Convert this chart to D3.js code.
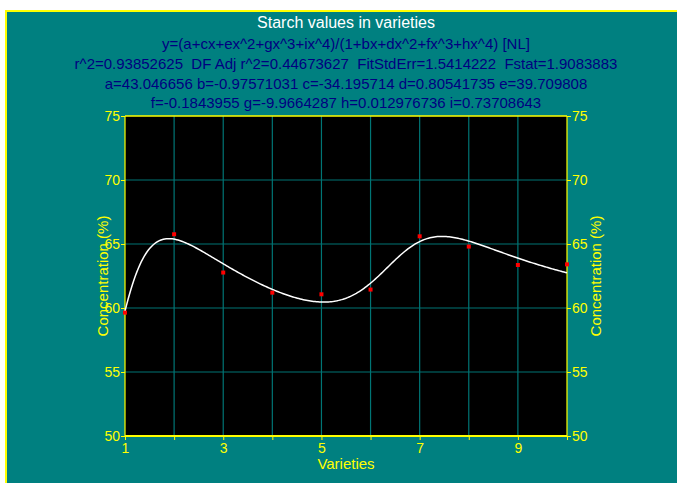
<!DOCTYPE html>
<html>
<head>
<meta charset="utf-8">
<script src="https://cdn.jsdelivr.net/npm/d3@7"></script>
<style>
  html, body { margin: 0; padding: 0; background: #ffffff; overflow: hidden; }
  svg { display: block; }
  text { font-family: "Liberation Sans", Arial, sans-serif; white-space: pre; }
</style>
</head>
<body>
<svg id="chart" width="677" height="483"></svg>
<script>
// ---- Data ----
const varieties = [1, 2, 3, 4, 5, 6, 7, 8, 9, 10];
const starch = [59.64, 65.76, 62.77, 61.2, 61.07, 61.44, 65.6, 64.8, 63.36, 63.41];
// fitted rational-function parameters shown in the chart header
const paramNames = ["a", "b", "c", "d", "e", "f", "g", "h", "i"];
const paramValues = [43.046656, -0.97571031, -34.195714, 0.80541735, 39.709808,
                     -0.1843955, -9.9664287, 0.012976736, 0.73708643];
const xTickValues = [1, 2, 3, 4, 5, 6, 7, 8, 9, 10];
const xTickLabels = ["1", "", "3", "", "5", "", "7", "", "9", ""];
const yTickValues = [50, 55, 60, 65, 70, 75];
const headerLines = [
  "Starch values in varieties",
  "y=(a+cx+ex^2+gx^3+ix^4)/(1+bx+dx^2+fx^3+hx^4) [NL]",
  "r^2=0.93852625  DF Adj r^2=0.44673627  FitStdErr=1.5414222  Fstat=1.9083883",
  "a=43.046656 b=-0.97571031 c=-34.195714 d=0.80541735 e=39.709808",
  "f=-0.1843955 g=-9.9664287 h=0.012976736 i=0.73708643"
];

// ---- Layout ----
const svg = d3.select("#chart");
const W = 677, H = 483;
const plot = { left: 125, right: 567, top: 116, bottom: 436 };
const TEAL = "#008080", YEL = "#ffff00";

svg.append("rect").attr("x", 0).attr("y", 0).attr("width", W).attr("height", H).attr("fill", "#ffffff");
svg.append("rect").attr("x", 6).attr("y", 11).attr("width", W + 10).attr("height", H + 10)
  .attr("fill", TEAL).attr("stroke", YEL).attr("stroke-width", 2);

const x = d3.scaleLinear().domain([1, 10]).range([plot.left, plot.right]);
const y = d3.scaleLinear().domain([50, 75]).range([plot.bottom, plot.top]);

// header
const headerY = [24, 45, 65, 85, 104];
headerLines.forEach((t, i) => {
  svg.append("text")
    .attr("x", (plot.left + plot.right) / 2)
    .attr("y", headerY[i])
    .attr("text-anchor", "middle")
    .attr("dominant-baseline", "middle")
    .attr("font-size", i === 0 ? "16px" : "15px")
    .attr("fill", i === 0 ? "#ffffff" : "#000080")
    .text(t);
});

// plot background
svg.append("rect").attr("x", plot.left).attr("y", plot.top)
  .attr("width", plot.right - plot.left).attr("height", plot.bottom - plot.top)
  .attr("fill", "#000000");

// grid
const grid = svg.append("g").attr("stroke", "#007575").attr("stroke-width", 1.2);
grid.selectAll("line.v").data(xTickValues.filter(v => v > 1 && v < 10)).join("line")
  .attr("x1", d => x(d)).attr("x2", d => x(d))
  .attr("y1", plot.top).attr("y2", plot.bottom);
grid.selectAll("line.h").data(yTickValues.filter(v => v > 50 && v < 75)).join("line")
  .attr("y1", d => y(d)).attr("y2", d => y(d))
  .attr("x1", plot.left).attr("x2", plot.right);

// axes
function styleAxis(g) {
  g.select(".domain").remove();
  g.selectAll(".tick line").attr("stroke", YEL);
  g.selectAll(".tick text").attr("fill", YEL).attr("font-size", "14px")
    .attr("font-family", "Liberation Sans, Arial, sans-serif");
}
svg.append("g").attr("transform", `translate(0,${plot.bottom})`)
  .call(d3.axisBottom(x).tickValues(xTickValues).tickSize(4).tickPadding(3)
    .tickFormat((d, i) => xTickLabels[i]))
  .call(styleAxis);
svg.append("g").attr("transform", `translate(${plot.left},0)`)
  .call(d3.axisLeft(y).tickValues(yTickValues).tickSize(4).tickPadding(1))
  .call(styleAxis);
svg.append("g").attr("transform", `translate(${plot.right},0)`)
  .call(d3.axisRight(y).tickValues(yTickValues).tickSize(4).tickPadding(1))
  .call(styleAxis);

// frame lines
svg.append("line").attr("x1", plot.left).attr("x2", plot.right).attr("y1", plot.top).attr("y2", plot.top)
  .attr("stroke", YEL).attr("stroke-width", 1.5);
svg.append("line").attr("x1", plot.left).attr("x2", plot.right).attr("y1", plot.bottom).attr("y2", plot.bottom)
  .attr("stroke", YEL).attr("stroke-width", 2);
svg.append("line").attr("x1", plot.left).attr("x2", plot.left).attr("y1", plot.top).attr("y2", plot.bottom)
  .attr("stroke", YEL).attr("stroke-width", 1.2);
svg.append("line").attr("x1", plot.right).attr("x2", plot.right).attr("y1", plot.top).attr("y2", plot.bottom)
  .attr("stroke", YEL).attr("stroke-width", 1.2);

// fitted curve from the displayed parameters
const P = Object.fromEntries(paramNames.map((n, i) => [n, paramValues[i]]));
function fit(v) {
  const num = P.a + P.c * v + P.e * v * v + P.g * v ** 3 + P.i * v ** 4;
  const den = 1 + P.b * v + P.d * v * v + P.f * v ** 3 + P.h * v ** 4;
  return num / den;
}
const curveX = d3.range(0, 301).map(k => 1 + 9 * k / 300);
svg.append("path")
  .datum(curveX)
  .attr("fill", "none").attr("stroke", "#ffffff").attr("stroke-width", 1.5)
  .attr("d", d3.line().x(d => x(d)).y(d => y(fit(d))));

// data points
svg.selectAll("rect.pt").data(varieties).join("rect")
  .attr("x", (d) => x(d) - 2).attr("y", (d, i) => y(starch[i]) - 2)
  .attr("width", 4).attr("height", 4).attr("fill", "#ff0000");

// axis titles
svg.append("text").attr("x", (plot.left + plot.right) / 2).attr("y", 469)
  .attr("text-anchor", "middle").attr("font-size", "15px").attr("fill", YEL).text("Varieties");
svg.append("text")
  .attr("transform", `translate(108,${(plot.top + plot.bottom) / 2}) rotate(-90)`)
  .attr("text-anchor", "middle").attr("font-size", "15px").attr("fill", YEL).text("Concentration (%)");
svg.append("text")
  .attr("transform", `translate(601,${(plot.top + plot.bottom) / 2}) rotate(-90)`)
  .attr("text-anchor", "middle").attr("font-size", "15px").attr("fill", YEL).text("Concentration (%)");
</script>
</body>
</html>
